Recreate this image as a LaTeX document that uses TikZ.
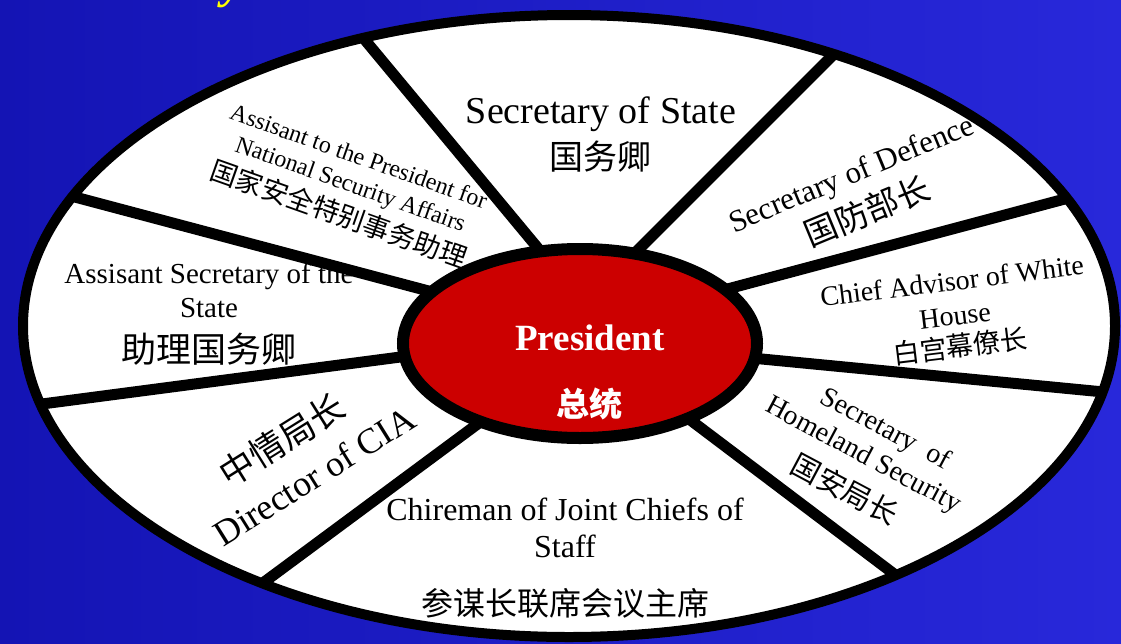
\documentclass[tikz,border=0pt]{standalone}
\usepackage{fontspec}
\setmainfont{Liberation Serif}
\newfontfamily\cjk{Noto Sans CJK SC}
\usetikzlibrary{shapes.geometric}
\definecolor{bgL}{RGB}{20,20,180}
\definecolor{bgR}{RGB}{40,40,218}
\definecolor{presred}{RGB}{204,0,0}
\definecolor{ttlyellow}{RGB}{255,255,0}
\newcommand{\fsz}[1]{\fontsize{#1}{#1}\selectfont}
\begin{document}
\begin{tikzpicture}[x=1pt,y=-1pt,
  lat/.style={inner sep=0pt, text=black, font=\fsz{#1}},
  cj/.style={inner sep=0pt, text=black, font=\cjk\fsz{#1}},
  spoke/.style={line width=11pt, black},
  ring/.style={ellipse, draw=black, inner sep=0pt}
]
\useasboundingbox (0,0) rectangle (1121,643);
\shade[left color=bgL, right color=bgR] (0,0) rectangle (1121,643);
\node[inner sep=0pt, anchor=base west, text=ttlyellow, font=\bfseries\itshape\fsz{48}] (ttl) at (222,-3) {y};

% outer wheel
\node[ring, line width=10pt, fill=white, minimum width=1092pt, minimum height=622pt] (outer) at (569,326) {};

% texts (under spokes)
\node[lat=38, anchor=base] (sos) at (601,123) {Secretary of State};
\node[cj=34] (sosc) at (600,157) {国务卿};

\node[lat=31, rotate=22.5] (sod) at (852,176) {Secretary of Defence};
\node[cj=33, rotate=22.5] (sodc) at (867,211) {国防部长};

\node[lat=28, rotate=7] (caw) at (952,281) {Chief Advisor of White};
\node[lat=28, rotate=7] (caw2) at (955,316) {House};
\node[cj=27, rotate=7] (cawc) at (960,346) {白宫幕僚长};

\node[lat=28, rotate=-28] (shs) at (885,430) {Secretary\ \ of};
\node[lat=28, rotate=-28] (shs2) at (863,456) {Homeland Security};
\node[cj=29, rotate=-28] (shsc) at (845,489) {国安局长};

\node[lat=32, anchor=base] (cjc) at (565,520) {Chireman of Joint Chiefs of};
\node[lat=32, anchor=base] (cjc2) at (565,557) {Staff};
\node[cj=32] (cjcc) at (565,603) {参谋长联席会议主席};

\node[cj=35, rotate=32] (ciac) at (282,440) {中情局长};
\node[lat=36, rotate=32] (cia) at (314,476) {Director of CIA};

\node[lat=29, anchor=base] (ass) at (209,283) {Assisant Secretary of the};
\node[lat=29, anchor=base] (ass2) at (209,317) {State};
\node[cj=35] (assc) at (209,349) {助理国务卿};

\node[lat=24, rotate=-19.5] (nsa) at (359,156) {Assisant to the President for};
\node[lat=24, rotate=-19.5] (nsa2) at (350,186) {National Security Affairs};
\node[cj=27, rotate=-19.5] (nsac) at (339,214) {国家安全特别事务助理};

% spoke end points
\coordinate (s1o) at (355,28);   \coordinate (s1i) at (581,300);
\coordinate (s2o) at (847,41);   \coordinate (s2i) at (588,300);
\coordinate (s3o) at (56,192);   \coordinate (s3i) at (470,302);
\coordinate (s4o) at (1091,192); \coordinate (s4i) at (690,299);
\coordinate (s5o) at (19,407);   \coordinate (s5i) at (450,350.5);
\coordinate (s6o) at (1135,395); \coordinate (s6i) at (710,354);
\coordinate (s7o) at (248,594);  \coordinate (s7i) at (510,400);
\coordinate (s8o) at (910,586);  \coordinate (s8i) at (650,389.5);

\begin{scope}
  \clip (569,326) ellipse [x radius=546, y radius=311];
  \foreach \k in {1,...,8} { \draw[spoke] (s\k i) -- (s\k o); }
\end{scope}

% president
\node[ring, line width=12pt, fill=presred, minimum width=354pt, minimum height=189pt] (pres) at (580,343.5) {};
\node[inner sep=0pt, anchor=base, text=white, font=\bfseries\fsz{37}] (ptxt) at (590,350) {President};
\node[inner sep=0pt, text=white, font=\cjk\bfseries\fsz{33}] (ptxtc) at (589,404) {总统};
\end{tikzpicture}
\end{document}
